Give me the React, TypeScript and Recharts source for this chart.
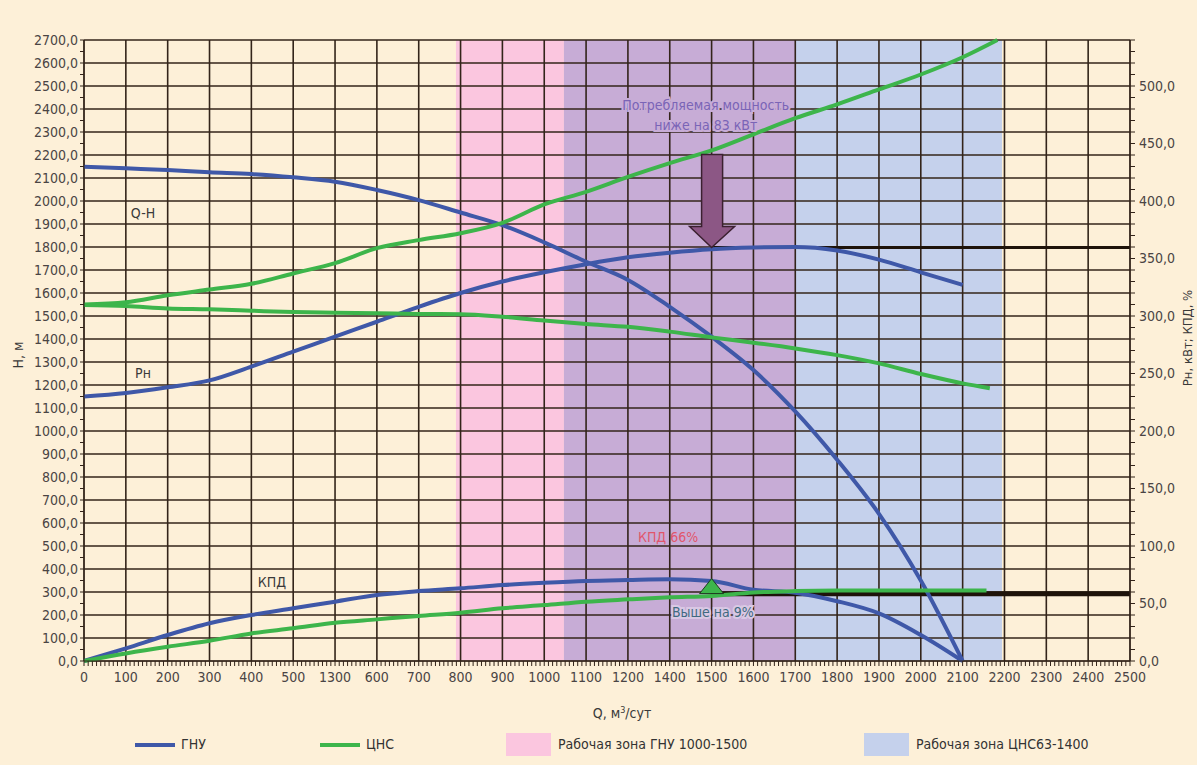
import React from 'react';
import {
  ComposedChart,
  Line,
  XAxis,
  YAxis,
  ReferenceArea,
  ReferenceLine,
  ReferenceDot,
} from 'recharts';

// Pump curves: ГНУ vs ЦНС, Q in grid units (one cell = 100)

const FONT = '"Liberation Sans Narrow", "DejaVu Sans Condensed", "Arial Narrow", sans-serif';

// x positions of the read points (0..2100)
const Q_POINTS = [0, 100, 200, 300, 400, 500, 600, 700, 800, 900, 1000, 1100, 1200, 1300, 1400, 1500, 1600, 1700, 1800, 1900, 2000, 2100];

// tick labels as printed on the original (note the misplaced 1300)
const X_TICK_LABELS = ['0', '100', '200', '300', '400', '500', '1300', '600', '700', '800', '900', '1000', '1100', '1200', '1400', '1500', '1600', '1700', '1800', '1900', '2000', '2100', '2200', '2300', '2400', '2500'];

// ГНУ (left axis H, м / right axis Рн кВт, КПД %)
const QH_GNU = [2149, 2142, 2135, 2125, 2117, 2103, 2084, 2048, 2004, 1950, 1895, 1820, 1736, 1657, 1540, 1410, 1265, 1085, 875, 640, 350, 0];
const PN_GNU = [230, 233, 238, 244, 256, 269, 282, 295, 308, 320, 330, 338, 345, 351, 355, 358, 359.5, 360, 357, 349, 338, 327];
const KPD_GNU = [0, 11, 22.6, 32.8, 40, 45.8, 51.6, 57.4, 60.8, 63.2, 66, 68, 69.6, 70.4, 71, 69.6, 62, 59.4, 52, 41.4, 22.6, 0];

// ЦНС, last value is the end point of each curve
const QH_CNS = [1548, 1543, 1533, 1529, 1523, 1517, 1514, 1512, 1509, 1508, 1497, 1480, 1465, 1453, 1432, 1407, 1384, 1359, 1330, 1294, 1248, 1207, 1186];
const QH_CNS_END = 2165;
const PN_CNS = [310, 312, 318, 323, 328, 337, 346, 359, 366, 372, 381, 397, 408, 421, 433, 444, 458, 472, 484, 497, 510, 525, 540];
const PN_CNS_END = 2183;
const KPD_CNS = [0, 6.6, 12.4, 17.6, 24, 28.4, 33.2, 36.2, 39.2, 42, 45.8, 48.6, 51.6, 53.6, 55.4, 56.6, 59.6, 60.8, 61.2, 61.2, 61.2, 61.2, 61.2];
const KPD_CNS_END = 2157;

// working zones
const ZONE_GNU = [889, 1700];
const ZONE_CNS = [1147, 2194];

// comparison point
const Q_DUTY = 1500;
const PN_LEVEL = 359.5;
const KPD_LEVEL = 58.5;

const BLUE = '#3f58a8';
const GREEN = '#3db54b';
const GRID = '#33241a';
const BG = '#fdf0d8';
const PINK = '#fbc6df';
const PURPLE = '#c7acd6';
const LIGHTBLUE = '#c5d1ec';
const TICK_TEXT = '#4a4444';

const toRows = (xs: number[], ys: number[], endX?: number) => {
  const rows = xs.map((q, i) => ({ q, v: ys[i] }));
  if (endX !== undefined) rows.push({ q: endX, v: ys[ys.length - 1] });
  return rows;
};

const gnuQH = toRows(Q_POINTS, QH_GNU);
const gnuPN = toRows(Q_POINTS, PN_GNU);
const gnuKPD = toRows(Q_POINTS, KPD_GNU);
const cnsQH = toRows(Q_POINTS, QH_CNS, QH_CNS_END);
const cnsPN = toRows(Q_POINTS, PN_CNS, PN_CNS_END);
const cnsKPD = toRows(Q_POINTS, KPD_CNS, KPD_CNS_END);

const range = (from: number, to: number, step: number) => {
  const out: number[] = [];
  for (let v = from; v <= to; v += step) out.push(v);
  return out;
};

const xTicks = range(0, 2500, 10);
const hTicks = range(0, 2700, 50);
const pTicks = range(0, 540, 10);
const gridH = range(0, 2700, 100);
const gridV = range(0, 2500, 100);

const fmtX = (v: number) => (v % 100 === 0 ? X_TICK_LABELS[v / 100] : '');
const fmtH = (v: number) => (v % 100 === 0 ? `${v},0` : '');
const fmtP = (v: number) => (v % 50 === 0 && v <= 500 ? `${v},0` : '');

// text annotation anchored to data coordinates
function note(key: string, x: number, y: number, text: string, color: string, halo?: string) {
  return (
    <ReferenceDot
      key={key}
      yAxisId="h"
      x={x}
      y={y}
      r={0}
      shape={(p: any) => (
        <text
          x={p.cx}
          y={p.cy}
          textAnchor="middle"
          dominantBaseline="central"
          fontSize={14}
          fill={color}
          stroke={halo || 'none'}
          strokeWidth={halo ? 4 : 0}
          paintOrder="stroke"
        >
          {text}
        </text>
      )}
    />
  );
}

const Arrow = (p: any) => {
  const { cx, cy } = p;
  const d = `M ${cx} ${cy} L ${cx - 22} ${cy - 21} L ${cx - 10} ${cy - 21} L ${cx - 10} ${cy - 93} L ${cx + 11} ${cy - 93} L ${cx + 11} ${cy - 21} L ${cx + 23} ${cy - 21} Z`;
  return <path d={d} fill="#8c5785" stroke="#3b2030" strokeWidth={1.5} />;
};

const Marker = (p: any) => {
  const { cx, cy } = p;
  return (
    <polygon
      points={`${cx - 12},${cy + 1} ${cx + 12},${cy + 1} ${cx},${cy - 14}`}
      fill={GREEN}
      stroke="#1f3b22"
      strokeWidth={1}
    />
  );
};

export default function App() {
  return (
    <div
      style={{
        position: 'absolute',
        left: 0,
        top: 0,
        width: 1197,
        height: 765,
        background: BG,
        fontFamily: FONT,
        overflow: 'hidden',
      }}
    >
      <ComposedChart width={1197} height={765} margin={{ top: 40, right: 0, bottom: 74, left: 0 }}>
        <ReferenceArea yAxisId="h" x1={ZONE_GNU[0]} x2={ZONE_CNS[0]} y1={0} y2={2700} fill={PINK} fillOpacity={1} stroke="none" />
        <ReferenceArea yAxisId="h" x1={ZONE_CNS[0]} x2={ZONE_GNU[1]} y1={0} y2={2700} fill={PURPLE} fillOpacity={1} stroke="none" />
        <ReferenceArea yAxisId="h" x1={ZONE_GNU[1]} x2={ZONE_CNS[1]} y1={0} y2={2700} fill={LIGHTBLUE} fillOpacity={1} stroke="none" />
        {/* grid drawn as reference lines so it sits above the zones */}
        {gridH.map((v) => (
          <ReferenceLine key={`h${v}`} yAxisId="h" y={v} stroke={GRID} strokeWidth={1.6} />
        ))}
        {gridV.map((v) => (
          <ReferenceLine key={`v${v}`} yAxisId="h" x={v} stroke={GRID} strokeWidth={1.6} />
        ))}
        <XAxis
          dataKey="q"
          type="number"
          domain={[0, 2500]}
          ticks={xTicks}
          interval={0}
          tickFormatter={fmtX}
          tickSize={5}
          tickMargin={6}
          height={30}
          stroke={GRID}
          tick={{ fill: TICK_TEXT, fontSize: 14 }}
          allowDuplicatedCategory={false}
        />
        <YAxis
          yAxisId="h"
          domain={[0, 2700]}
          ticks={hTicks}
          interval={0}
          tickFormatter={fmtH}
          tickSize={4}
          tickMargin={2}
          width={84}
          stroke={GRID}
          tick={{ fill: TICK_TEXT, fontSize: 14 }}
        />
        <YAxis
          yAxisId="p"
          orientation="right"
          domain={[0, 540]}
          ticks={pTicks}
          interval={0}
          tickFormatter={fmtP}
          tickSize={5}
          tickMargin={4}
          width={67}
          stroke={GRID}
          tick={{ fill: TICK_TEXT, fontSize: 14 }}
        />
        <ReferenceLine
          yAxisId="p"
          segment={[{ x: Q_DUTY, y: PN_LEVEL }, { x: 2500, y: PN_LEVEL }]}
          stroke="#1e130a"
          strokeWidth={3}
        />
        <ReferenceLine
          yAxisId="p"
          segment={[{ x: Q_DUTY, y: KPD_LEVEL }, { x: 2500, y: KPD_LEVEL }]}
          stroke="#1e130a"
          strokeWidth={5}
        />
        <Line yAxisId="h" data={gnuQH} dataKey="v" type="monotone" stroke={BLUE} strokeWidth={4} dot={false} isAnimationActive={false} />
        <Line yAxisId="p" data={gnuPN} dataKey="v" type="monotone" stroke={BLUE} strokeWidth={4} dot={false} isAnimationActive={false} />
        <Line yAxisId="p" data={gnuKPD} dataKey="v" type="monotone" stroke={BLUE} strokeWidth={4} dot={false} isAnimationActive={false} />
        <Line yAxisId="h" data={cnsQH} dataKey="v" type="monotone" stroke={GREEN} strokeWidth={4} dot={false} isAnimationActive={false} />
        <Line yAxisId="p" data={cnsPN} dataKey="v" type="monotone" stroke={GREEN} strokeWidth={4} dot={false} isAnimationActive={false} />
        <Line yAxisId="p" data={cnsKPD} dataKey="v" type="monotone" stroke={GREEN} strokeWidth={4} dot={false} isAnimationActive={false} />
        <ReferenceDot yAxisId="p" x={Q_DUTY} y={PN_LEVEL} r={0} shape={Arrow} />
        <ReferenceDot yAxisId="p" x={Q_DUTY} y={KPD_LEVEL + 1} r={0} shape={Marker} />
        {note('qh', 141, 1948, 'Q-H', '#3a3a3a')}
        {note('pn', 141, 1252, 'Рн', '#3a3a3a')}
        {note('kpd', 449, 343, 'КПД', '#3a3a3a')}
        {note('p1', 1486, 2417, 'Потребляемая мощность', '#7a64b6', PURPLE)}
        {note('p2', 1486, 2330, 'ниже на 83 кВт', '#7a64b6', PURPLE)}
        {note('k66', 1396, 539, 'КПД 66%', '#e0566c')}
        {note('k9', 1503, 213, 'Выше на 9%', '#3f6a80', '#d9c8e4')}
      </ComposedChart>

      {/* axis titles */}
      <div
        style={{
          position: 'absolute',
          left: 18,
          top: 355,
          transform: 'translate(-50%, -50%) rotate(-90deg)',
          fontSize: 14,
          color: '#3a3a3a',
          whiteSpace: 'nowrap',
        }}
      >
        H, м
      </div>
      <div
        style={{
          position: 'absolute',
          left: 1188,
          top: 338,
          transform: 'translate(-50%, -50%) rotate(-90deg)',
          fontSize: 13,
          color: '#3a3a3a',
          whiteSpace: 'nowrap',
          lineHeight: '14px',
        }}
      >
        Рн, кВт; КПД, %
      </div>
      <div
        style={{
          position: 'absolute',
          left: 622,
          top: 713,
          transform: 'translate(-50%, -50%)',
          fontSize: 14,
          color: '#3a3a3a',
          whiteSpace: 'nowrap',
        }}
      >
        Q, м<sup style={{ fontSize: 9 }}>3</sup>/сут
      </div>

      {/* legend */}
      <div style={{ position: 'absolute', left: 135, top: 743, width: 40, height: 4, background: BLUE }} />
      <div style={{ position: 'absolute', left: 181, top: 736, fontSize: 14, color: '#333' }}>ГНУ</div>
      <div style={{ position: 'absolute', left: 320, top: 743, width: 40, height: 4, background: GREEN }} />
      <div style={{ position: 'absolute', left: 366, top: 736, fontSize: 14, color: '#333' }}>ЦНС</div>
      <div style={{ position: 'absolute', left: 506, top: 733, width: 45, height: 23, background: PINK }} />
      <div style={{ position: 'absolute', left: 558, top: 736, fontSize: 14, color: '#333' }}>Рабочая зона ГНУ 1000-1500</div>
      <div style={{ position: 'absolute', left: 864, top: 733, width: 45, height: 23, background: LIGHTBLUE }} />
      <div style={{ position: 'absolute', left: 916, top: 736, fontSize: 14, color: '#333' }}>Рабочая зона ЦНС63-1400</div>
    </div>
  );
}
